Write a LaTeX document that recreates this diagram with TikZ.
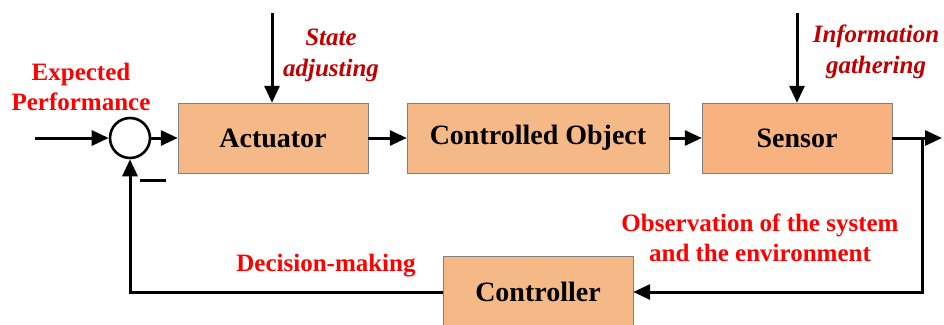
\documentclass[tikz,border=0pt]{standalone}
\usepackage{fontspec}
\setmainfont{Liberation Serif}
\usetikzlibrary{arrows.meta}
\definecolor{boxfill}{RGB}{245,185,135}
\definecolor{senfill}{RGB}{248,178,128}
\definecolor{darkred}{RGB}{192,0,0}

\begin{document}
\begin{tikzpicture}[x=1pt,y=-1pt,
blk/.style = {% blocks
    draw=gray, fill=boxfill, minimum width=190pt, minimum height=70pt,
    inner sep=0pt, font=\fontsize{28}{30}\selectfont\bfseries,
            },
lbl/.style = {% red labels
    text=red, align=center, font=\fontsize{25}{30}\selectfont\bfseries,
            },
lbi/.style = {% italic labels
    text=darkred, align=center, font=\fontsize{25}{31}\selectfont\bfseries\itshape,
            },
sig/.style = {line width=3pt, -{Triangle[length=17pt,width=15pt]}},
                        ]
\useasboundingbox (0,0) rectangle (944,324);

 \node[circle, draw, line width=2.6pt, minimum size=40pt, inner sep=0pt] (sum) at (130,138) {};
 \node[blk] (act) at (273,138) {Actuator};
 \node[blk, minimum width=262pt] (obj) at (538,138) {Controlled Object};
 \node[blk, fill=senfill] (sen) at (797,138) {Sensor};
 \node[blk, minimum height=72pt] (ctl) at (538,292) {Controller};

 \node[lbl] (exp) at (81,87) {Expected\\Performance};
 \node[lbi] (sta) at (331,55) {State\\adjusting};
 \node[lbi] (inf) at (876,52) {Information\\gathering};
 \node[lbl] (obs) at (760,238) {Observation of the system\\and the environment};
 \node[lbl] (dec) at (326,266) {Decision-making};
 \node[inner sep=0pt] (minus) at (153,180) {\rule{26pt}{3pt}};

 \coordinate (in) at (35,138);
 \coordinate (out) at (942,138);
 \coordinate (br) at (922,138);
 \coordinate (sa) at (272,13);
 \coordinate (ig) at (797,13);

 \draw[sig] (in) -- (sum);
 \draw[sig] (sum) -- (act);
 \draw[sig] (act) -- (obj);
 \draw[sig] (obj) -- (sen);
 \draw[sig] (sen) -- (out);
 \draw[sig] (br) |- (ctl);
 \draw[sig] (ctl) -| (sum);
 \draw[sig] (sa) -- (sa |- act.north);
 \draw[sig] (ig) -- (sen);

\end{tikzpicture}
\end{document}
